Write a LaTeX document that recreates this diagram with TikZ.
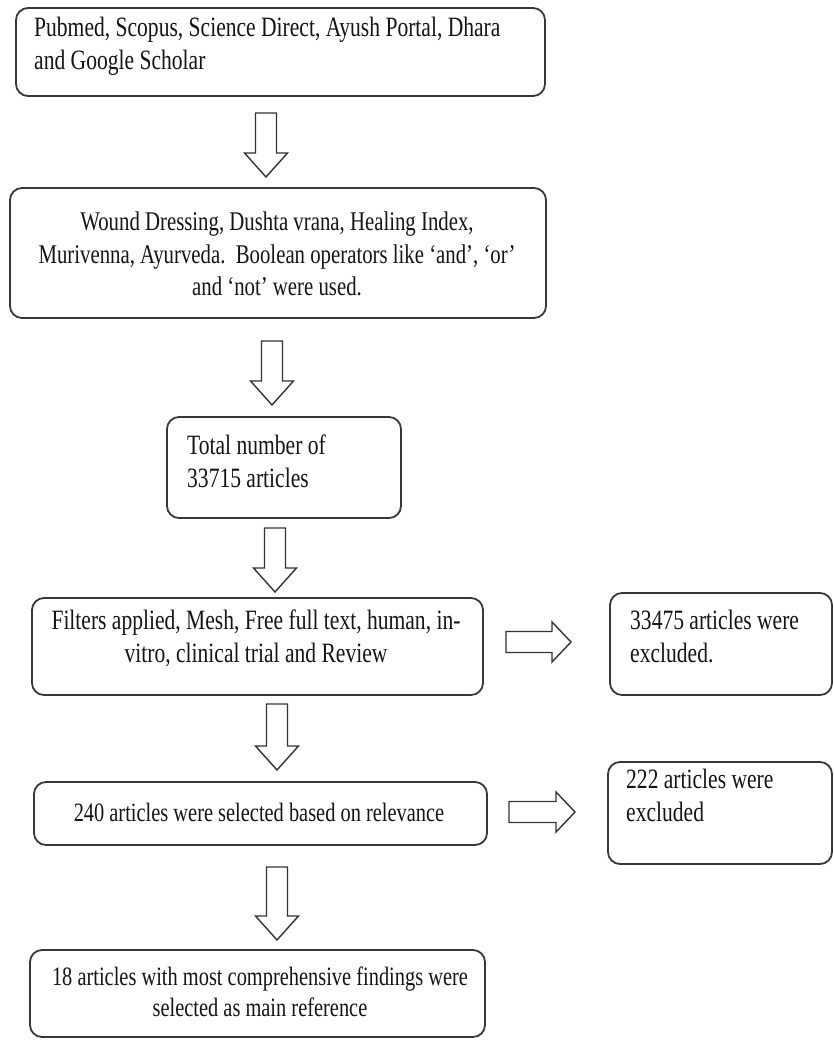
\documentclass[tikz,border=0pt]{standalone}
\usepackage{fontspec}
\setmainfont[FakeStretch=0.77]{Liberation Serif}
\newcommand\boxfont{\fontsize{28}{33}\selectfont}
\newcommand\midfont{\fontsize{27}{32.5}\selectfont}
\newcommand\smallboxfont{\fontsize{26.5}{31.5}\selectfont}
\tikzset{
  boxshape/.style={draw=black!78, line width=1.8pt, rounded corners=12pt, inner sep=0pt, rectangle},
  txt/.style={inner sep=0pt, font=\boxfont, text=black!92},
  arrowline/.style={draw=black!80, line width=1.4pt, fill=white, line join=miter},
  pics/downarr/.style={code={
    \draw[arrowline] (-10.5,0) -- (10.5,0) -- (10.5,{#1-24}) -- (21.5,{#1-24}) -- (0,#1) -- (-21.5,{#1-24}) -- (-10.5,{#1-24}) -- cycle;}},
  pics/rightarr/.style={code={
    \draw[arrowline] (0,-10.5) -- ({#1-19},-10.5) -- ({#1-19},-20) -- (#1,0) -- ({#1-19},20) -- ({#1-19},10.5) -- (0,10.5) -- cycle;}}
}
\begin{document}
\begin{tikzpicture}[x=1pt,y=-1pt]
\useasboundingbox (0,0) rectangle (833,1041);
% boxes
\node[boxshape, minimum width=529pt, minimum height=88pt] (b1) at (280.5,52) {};
\node[boxshape, minimum width=536pt, minimum height=130pt] (b2) at (278,253) {};
\node[boxshape, minimum width=234pt, minimum height=101pt] (b3) at (284,467.5) {};
\node[boxshape, minimum width=451pt, minimum height=97pt] (b4) at (257.5,646.5) {};
\node[boxshape, minimum width=222pt, minimum height=102pt] (r1) at (721,644) {};
\node[boxshape, minimum width=453pt, minimum height=63pt] (b5) at (260.5,813.5) {};
\node[boxshape, minimum width=224pt, minimum height=102pt] (r2) at (720,813) {};
\node[boxshape, minimum width=455pt, minimum height=87pt] (b6) at (257.5,993.5) {};
% texts
\node[txt, anchor=west, align=left] (t1) at (34,46) {Pubmed, Scopus, Science Direct, Ayush Portal, Dhara\\and Google Scholar};
\node[txt, font=\midfont, align=center] (t2) at (277,254) {Wound Dressing, Dushta vrana, Healing Index,\\Murivenna, Ayurveda.\ \ Boolean operators like ‘and’, ‘or’\\and ‘not’ were used.};
\node[txt, anchor=west, align=left] (t3) at (187,461) {Total number of\\33715 articles};
\node[txt, align=center] (t4) at (256,638) {Filters applied, Mesh, Free full text, human, in-\\vitro, clinical trial and Review};
\node[txt, anchor=west, align=left] (t5) at (630,636) {33475 articles were\\excluded.};
\node[txt, font=\smallboxfont] (t6) at (259,812) {240 articles were selected based on relevance};
\node[txt, anchor=west, align=left] (t7) at (626,795) {222 articles were\\excluded};
\node[txt, font=\smallboxfont, align=center] (t8) at (260,992) {18 articles with most comprehensive findings were\\selected as main reference};
% block arrows
\pic at (266,113) {downarr=64};
\pic at (272,341) {downarr=64};
\pic at (275,528) {downarr=64};
\pic at (277,704) {downarr=66};
\pic at (277,867) {downarr=73};
\pic at (506,642) {rightarr=65};
\pic at (509,812) {rightarr=66};
\end{tikzpicture}
\end{document}
